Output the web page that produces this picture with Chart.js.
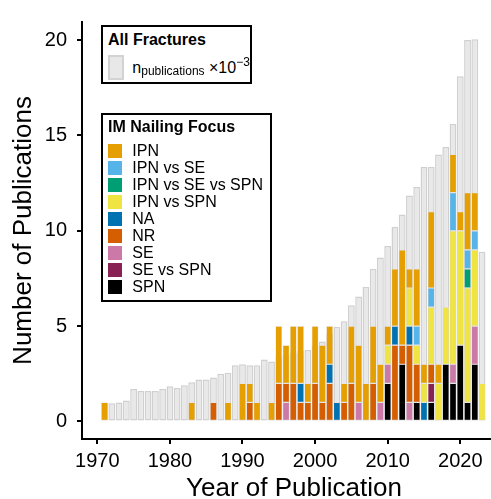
<!DOCTYPE html>
<html>
<head>
<meta charset="utf-8">
<title>IM Nailing Publications</title>
<script src="https://cdn.jsdelivr.net/npm/chart.js@4.4.1/dist/chart.umd.min.js"></script>
<style>
  html, body { margin: 0; padding: 0; background: #fff; overflow: hidden; }
  #wrap { position: relative; width: 506px; height: 510px; }
  #chart { position: absolute; left: 0; top: 0; width: 506px; height: 510px; }
  .lgbox { position: absolute; box-sizing: border-box; border: 2px solid #000; background: #fff; }
  .lg { position: absolute; font-family: "Liberation Sans", Arial, sans-serif; font-size: 16px; line-height: 16px; color: #000; white-space: nowrap; }
  .lgtitle { font-weight: bold; }
  .key { position: absolute; width: 14px; height: 14px; box-sizing: border-box; }
  .sub { font-size: 12px; position: relative; top: 2.2px; }
  .sup { font-size: 12px; position: relative; top: -7.3px; }
</style>
</head>
<body>
<div id="wrap">
  <canvas id="chart" width="506" height="510"></canvas>

  <div class="lgbox" style="left:101px; top:25px; width:151px; height:59px;"></div>
  <div class="lg lgtitle" style="left:108px; top:31.5px;">All Fractures</div>
  <div class="key" style="left:108px; top:54.5px; width:15.5px; height:25px; background:#e8e8e8; border:2px solid #d3d3d3;"></div>
  <div class="lg" style="left:132.3px; top:59.8px;">n<span class="sub">publications</span> ×10<span class="sup">−3</span></div>

  <div class="lgbox" style="left:101px; top:113px; width:171px; height:189px;"></div>
  <div class="lg lgtitle" style="left:108px; top:118.5px;">IM Nailing Focus</div>
  <div id="focusLegend"></div>
</div>

<script>
// publication years
var years = [
  1971, 1972, 1973, 1974, 1975, 1976, 1977, 1978, 1979, 1980,
  1981, 1982, 1983, 1984, 1985, 1986, 1987, 1988, 1989, 1990,
  1991, 1992, 1993, 1994, 1995, 1996, 1997, 1998, 1999, 2000,
  2001, 2002, 2003, 2004, 2005, 2006, 2007, 2008, 2009, 2010,
  2011, 2012, 2013, 2014, 2015, 2016, 2017, 2018, 2019, 2020,
  2021, 2022, 2023
];

// all fracture publications (x10^-3)
var allFractures = [
  1.0, 0.95, 1.0, 1.1, 1.7, 1.6, 1.6, 1.6, 1.7, 1.85,
  1.75, 1.9, 2.05, 2.2, 2.2, 2.3, 2.5, 2.55, 2.95, 3.0,
  2.95, 2.95, 3.25, 3.15, 3.4, 3.5, 3.6, 3.7, 3.75, 4.0,
  4.2, 4.6, 4.95, 5.25, 6.1, 6.55, 7.05, 8.0, 8.6, 9.2,
  10.2, 10.85, 11.85, 12.3, 13.35, 13.35, 14.0, 14.4, 15.6, 18.1,
  20.0, 20.05, 8.9
];

// IM nailing focus counts
var ipn = [
  1, 0, 0, 0, 0, 0, 0, 0, 0, 0,
  0, 0, 1, 0, 0, 0, 0, 1, 0, 2,
  1, 1, 0, 1, 3, 2, 3, 3, 1, 3,
  3, 2, 0, 1, 3, 3, 2, 3, 2, 1,
  3, 5, 1, 3, 1, 4, 1, 0, 2, 1,
  3, 2, 0
];
var ipnVsSe = [
  0, 0, 0, 0, 0, 0, 0, 0, 0, 0,
  0, 0, 0, 0, 0, 0, 0, 0, 0, 0,
  0, 0, 0, 0, 0, 0, 0, 0, 0, 0,
  0, 0, 0, 0, 0, 0, 0, 0, 0, 0,
  0, 0, 0, 1, 0, 1, 0, 0, 2, 0,
  1, 1, 0
];
var ipnVsSeVsSpn = [
  0, 0, 0, 0, 0, 0, 0, 0, 0, 0,
  0, 0, 0, 0, 0, 0, 0, 0, 0, 0,
  0, 0, 0, 0, 0, 0, 0, 0, 0, 0,
  0, 0, 0, 0, 0, 0, 0, 0, 0, 0,
  0, 0, 0, 0, 0, 0, 0, 0, 0, 0,
  1, 0, 0
];
var ipnVsSpn = [
  0, 0, 0, 0, 0, 0, 0, 0, 0, 0,
  0, 0, 0, 0, 0, 0, 0, 0, 0, 0,
  0, 0, 0, 0, 0, 0, 0, 0, 0, 0,
  0, 0, 0, 0, 0, 0, 0, 0, 0, 1,
  0, 0, 2, 1, 1, 3, 2, 3, 7, 6,
  6, 4, 2
];
var na = [
  0, 0, 0, 0, 0, 0, 0, 0, 0, 0,
  0, 0, 0, 0, 0, 0, 0, 0, 0, 0,
  0, 0, 0, 0, 0, 0, 0, 1, 0, 0,
  0, 1, 1, 0, 0, 0, 0, 0, 0, 0,
  1, 0, 1, 0, 1, 0, 0, 0, 0, 0,
  0, 0, 0
];
var nr = [
  0, 0, 0, 0, 0, 0, 0, 0, 0, 0,
  0, 0, 0, 0, 0, 1, 0, 0, 0, 0,
  1, 0, 0, 0, 2, 1, 2, 1, 1, 2,
  1, 2, 0, 1, 2, 0, 0, 2, 0, 0,
  4, 1, 3, 2, 0, 1, 0, 0, 0, 0,
  0, 0, 0
];
var se = [
  0, 0, 0, 0, 0, 0, 0, 0, 0, 0,
  0, 0, 0, 0, 0, 0, 0, 0, 0, 0,
  0, 0, 0, 0, 0, 1, 0, 0, 0, 0,
  0, 0, 0, 0, 0, 1, 0, 0, 1, 1,
  0, 0, 1, 0, 0, 0, 0, 0, 1, 0,
  0, 2, 0
];
var seVsSpn = [
  0, 0, 0, 0, 0, 0, 0, 0, 0, 0,
  0, 0, 0, 0, 0, 0, 0, 0, 0, 0,
  0, 0, 0, 0, 0, 0, 0, 0, 0, 0,
  0, 0, 0, 0, 0, 0, 0, 0, 0, 0,
  0, 0, 0, 0, 0, 1, 0, 0, 0, 0,
  0, 0, 0
];
var spn = [
  0, 0, 0, 0, 0, 0, 0, 0, 0, 0,
  0, 0, 0, 0, 0, 0, 0, 0, 0, 0,
  0, 0, 0, 0, 0, 0, 0, 0, 0, 0,
  0, 0, 0, 0, 0, 0, 0, 0, 0, 2,
  0, 3, 0, 1, 0, 1, 0, 3, 2, 4,
  1, 3, 0
];

var focusNames = ["IPN", "IPN vs SE", "IPN vs SE vs SPN", "IPN vs SPN", "NA", "NR", "SE", "SE vs SPN", "SPN"];
var focusColors = ["#E69F00", "#56B4E9", "#009E73", "#F0E442", "#0072B2", "#D55E00", "#CC79A7", "#882255", "#000000"];
var focusSeries = [ipn, ipnVsSe, ipnVsSeVsSpn, ipnVsSpn, na, nr, se, seVsSpn, spn];

var xTicks = [1970, 1980, 1990, 2000, 2010, 2020];
var yTicks = [0, 5, 10, 15, 20];

// legend for the focus categories
var legendDiv = document.getElementById("focusLegend");
focusNames.forEach(function (name, i) {
  var key = document.createElement("div");
  key.className = "key";
  key.style.left = "108px";
  key.style.top = (144 + 17 * i) + "px";
  key.style.background = focusColors[i];
  legendDiv.appendChild(key);

  var txt = document.createElement("div");
  txt.className = "lg";
  txt.style.left = "132.3px";
  txt.style.top = (143.2 + 17 * i) + "px";
  txt.textContent = name;
  legendDiv.appendChild(txt);
});

function points(values) {
  return years.map(function (yr, i) {
    return { x: yr, y: values[i] > 0 ? values[i] : null };
  });
}

// SPN at the bottom of the stack, IPN on top
var datasets = [];
for (var k = focusNames.length - 1; k >= 0; k--) {
  datasets.push({
    label: focusNames[k],
    data: points(focusSeries[k]),
    backgroundColor: focusColors[k],
    borderColor: "rgba(225, 225, 225, 0.85)",
    borderWidth: 0.6,
    borderSkipped: false,
    stack: "focus",
    order: 0
  });
}
datasets.push({
  label: "All Fractures",
  data: points(allFractures),
  backgroundColor: "#e8e8e8",
  borderColor: "#d0d0d0",
  borderWidth: 1.5,
  borderSkipped: false,
  stack: "all",
  order: 1
});

Chart.defaults.font.family = "'Liberation Sans', Arial, sans-serif";
Chart.defaults.color = "#000";

var ctx = document.getElementById("chart").getContext("2d");
var myChart = new Chart(ctx, {
  type: "bar",
  data: { datasets: datasets },
  options: {
    responsive: false,
    devicePixelRatio: 1,
    animation: false,
    layout: { padding: { top: 15, left: 0, right: 0, bottom: 0 } },
    datasets: {
      bar: { grouped: false, barPercentage: 0.94, categoryPercentage: 1 }
    },
    plugins: {
      legend: { display: false },
      tooltip: { enabled: false }
    },
    scales: {
      x: {
        type: "linear",
        min: 1967.89,
        max: 2026.3,
        offset: false,
        afterBuildTicks: function (s) {
          s.ticks = xTicks.map(function (v) { return { value: v }; });
        },
        afterFit: function (s) { s.height = 510 - 439; },
        ticks: {
          font: { size: 20 },
          color: "#000",
          padding: 5,
          maxRotation: 0,
          autoSkip: false,
          callback: function (v) { return String(v); }
        },
        grid: {
          display: true,
          offset: false,
          drawOnChartArea: false,
          drawTicks: true,
          tickLength: 5,
          color: "#000",
          lineWidth: 2
        },
        border: { display: true, color: "#000", width: 2 },
        title: {
          display: true,
          text: "Year of Publication",
          font: { size: 26 },
          color: "#000",
          padding: { top: 0, bottom: 5.5 }
        }
      },
      y: {
        type: "linear",
        stacked: true,
        min: -0.92,
        max: 20.95,
        afterBuildTicks: function (s) {
          s.ticks = yTicks.map(function (v) { return { value: v }; });
        },
        afterFit: function (s) { s.width = 82; },
        ticks: {
          font: { size: 20 },
          color: "#000",
          padding: 10,
          callback: function (v) { return String(v); }
        },
        grid: {
          display: true,
          drawOnChartArea: false,
          drawTicks: true,
          tickLength: 5,
          color: "#000",
          lineWidth: 2
        },
        border: { display: true, color: "#000", width: 2 },
        title: {
          display: true,
          text: "Number of Publications",
          font: { size: 26 },
          color: "#000",
          padding: { top: 8, bottom: 0 }
        }
      }
    }
  }
});
</script>
</body>
</html>
